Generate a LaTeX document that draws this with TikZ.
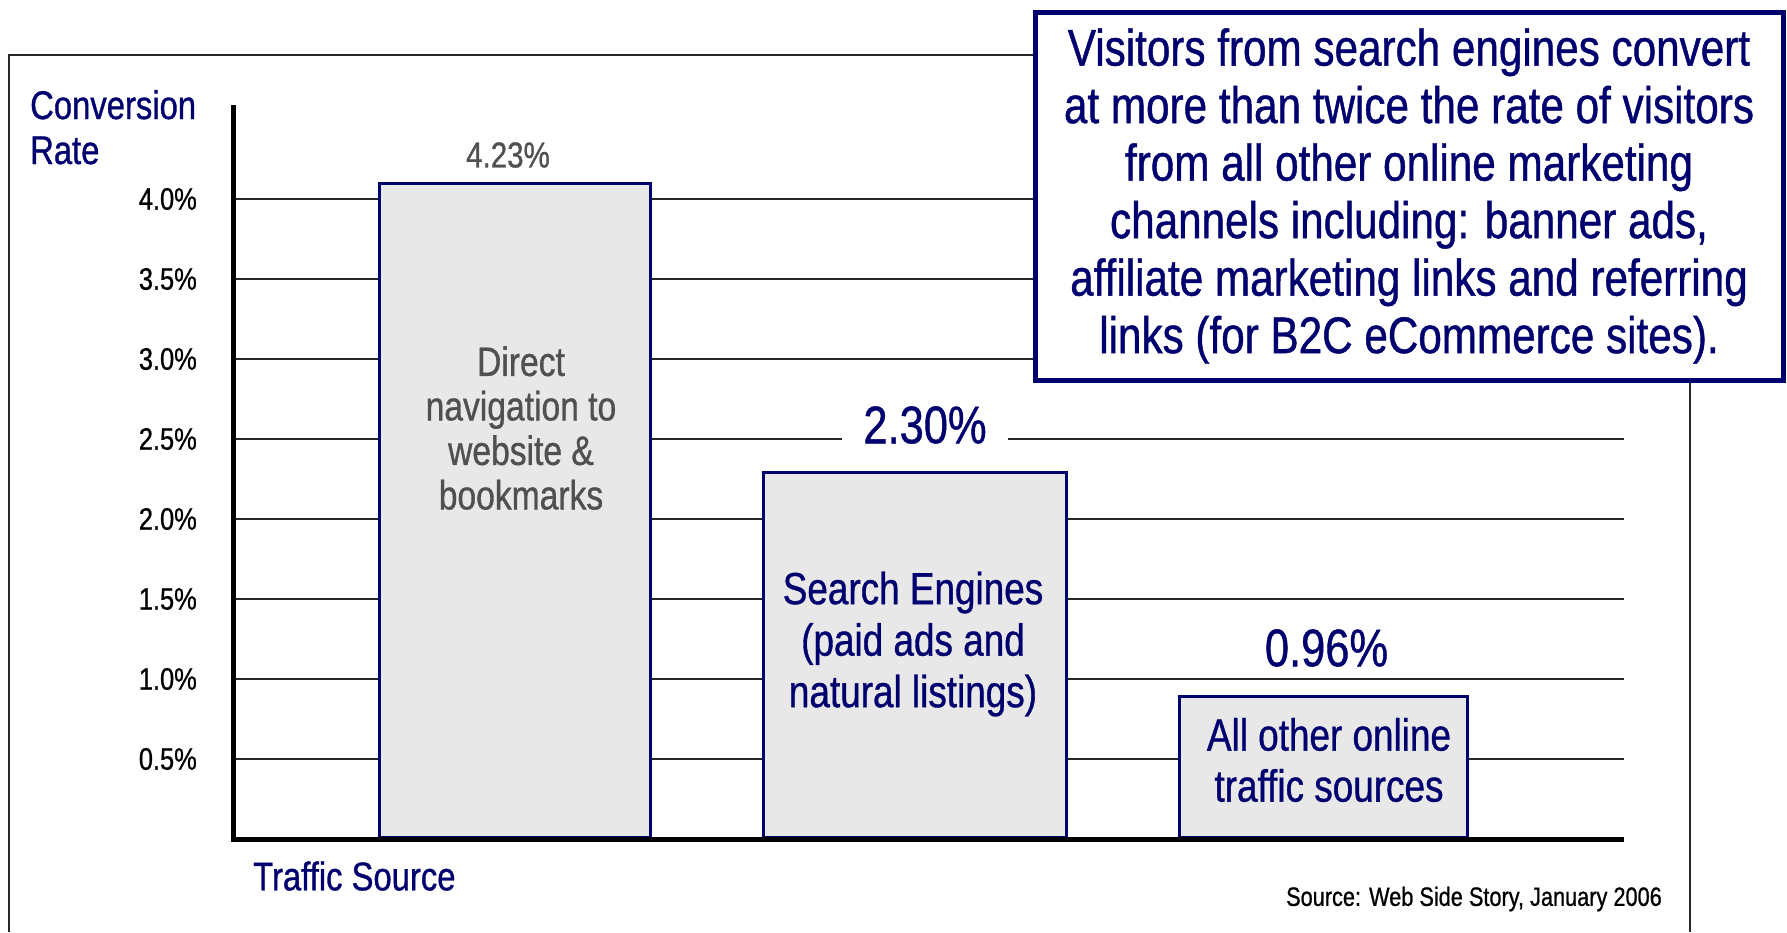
\documentclass[tikz,border=0pt]{standalone}
\usepackage{fontspec}
\setmainfont{Liberation Sans}[FakeStretch=0.82, FakeBold=0.8]
\usetikzlibrary{positioning}

\definecolor{darknavy}{RGB}{0,0,110}
\definecolor{bargray}{RGB}{232,232,232}
\definecolor{txtgray}{RGB}{80,80,80}
\definecolor{rulegray}{RGB}{40,40,40}

\begin{document}
\begin{tikzpicture}[x=1pt, y=-1pt,
    barbox/.style={draw=darknavy, line width=3pt, fill=bargray, anchor=south west, inner sep=0pt},
    gridrule/.style={draw=rulegray, line width=1.6pt},
    axisline/.style={draw=black, line width=5pt},
    ticklbl/.style={anchor=east, inner sep=0pt, font=\fontsize{31}{37}\selectfont},
    axislbl/.style={text=darknavy, inner sep=0pt, font=\fontsize{40}{45}\selectfont},
    pctbig/.style={fill=white, text=darknavy, inner xsep=21pt, inner ysep=0pt, font=\fontsize{53}{60}\selectfont},
    bartxt/.style={align=center, inner sep=0pt}
]
\useasboundingbox (0,0) rectangle (1787,932);

% outer frame, open at the bottom
\draw[draw=rulegray, line width=2pt] (9,932) -- (9,55) -- (1690,55) -- (1690,932);

% gridlines and tick labels
\foreach \v/\t in {1/0.5, 2/1.0, 3/1.5, 4/2.0, 5/2.5, 6/3.0, 7/3.5, 8/4.0} {
    \draw[gridrule] (233,{839-80*\v}) -- (1624,{839-80*\v});
    \node[ticklbl] (tick\v) at (197,{839-80*\v}) {\t\%};
}

% bars
\node[barbox, minimum width=271pt, minimum height=654pt] (bar1) at (378,839) {};
\node[barbox, minimum width=303pt, minimum height=365pt] (bar2) at (762,839) {};
\node[barbox, minimum width=288pt, minimum height=141pt] (bar3) at (1178,839) {};

% axes
\coordinate (ytop) at (233,105);
\coordinate (origin) at (233,839);
\coordinate (xend) at (1624,839);
\draw[axisline] (ytop) -- (origin) -- (xend);

% values above the bars
\node[inner sep=0pt, text=txtgray, font=\fontsize{36}{40}\selectfont, above=14pt of bar1, xshift=-7pt] (val1) {4.23\%};
\node[pctbig, above=27pt of bar2, xshift=10pt] (val2) {2.30\%};
\node[pctbig, above=28pt of bar3, xshift=3pt] (val3) {0.96\%};

% bar labels
\node[bartxt, text=txtgray, font=\fontsize{41}{44.5}\selectfont] (lbl1) at (521,428) {Direct\\navigation to\\website \&\\bookmarks};
\node[bartxt, text=darknavy, font=\fontsize{45}{51.5}\selectfont] (lbl2) at (913,644) {Search Engines\\(paid ads and\\natural listings)};
\node[bartxt, text=darknavy, font=\fontsize{45}{51}\selectfont] (lbl3) at (1329,760) {All other online\\traffic sources};

% axis titles
\node[axislbl, align=left, anchor=base west] (ytitle) at (30,164) {Conversion\\Rate};
\node[axislbl, anchor=west] (xtitle) at (253,876) {Traffic Source};
\node[inner sep=0pt, anchor=east, font=\fontsize{26.5}{30}\selectfont] (source) at (1662,899) {Source: Web Side Story, January 2006};

% callout
\node[draw=darknavy, line width=5pt, fill=white, minimum width=748pt, minimum height=368pt,
      align=center, text=darknavy, font=\fontsize{51.5}{57.5}\selectfont] (note) at (1409,196)
    {Visitors from search engines convert\\at more than twice the rate of visitors\\from all other online marketing\\channels including: banner ads,\\affiliate marketing links and referring\\links (for B2C eCommerce sites).};
\end{tikzpicture}
\end{document}
